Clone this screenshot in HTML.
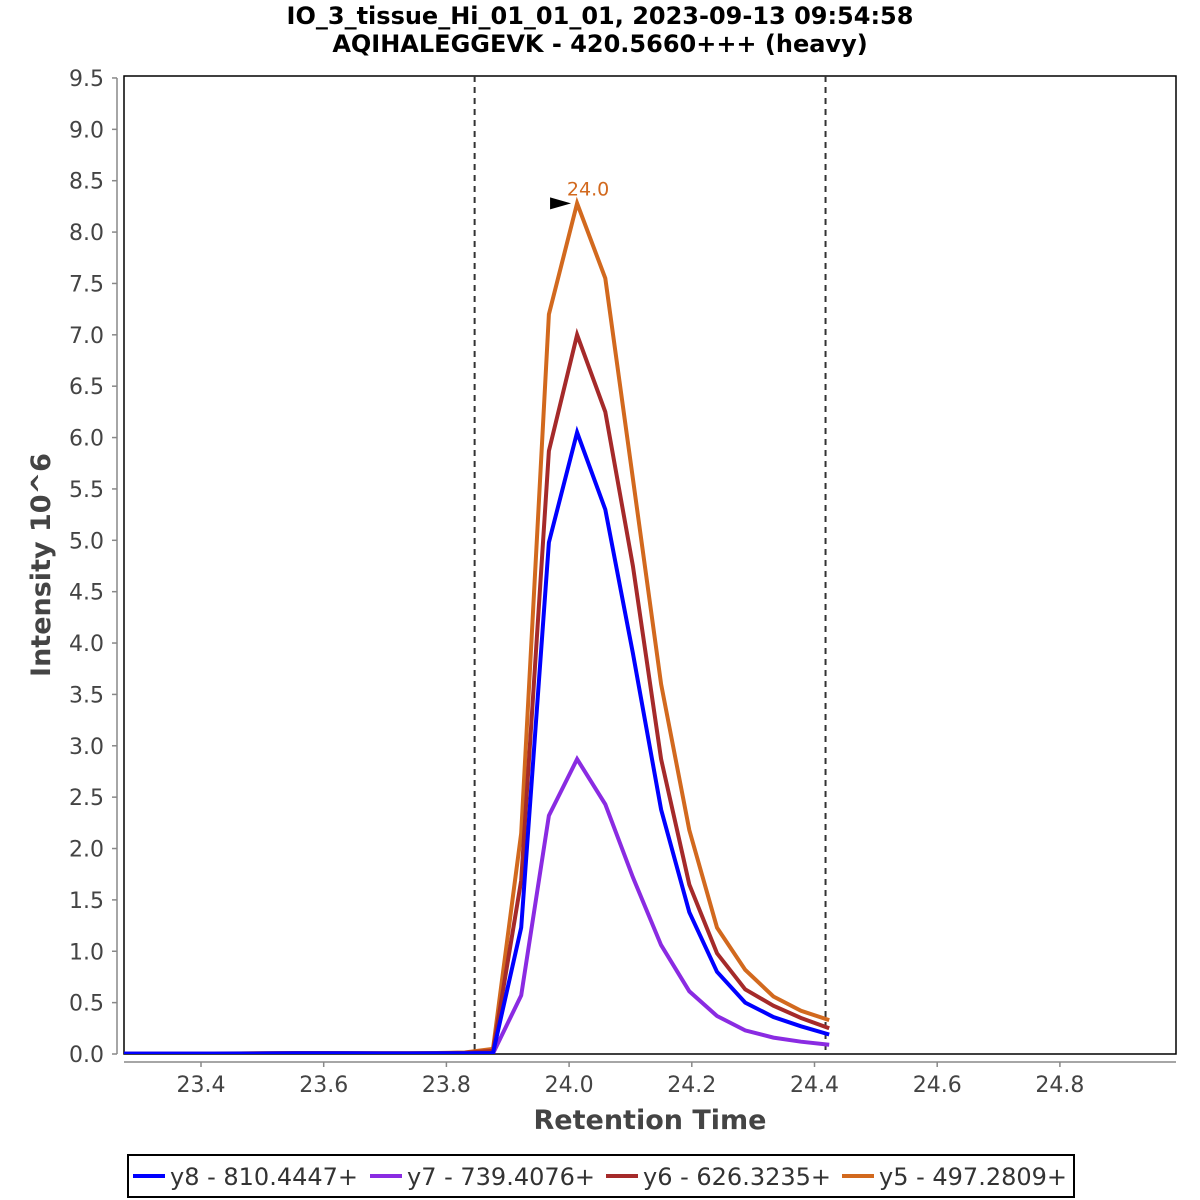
<!DOCTYPE html>
<html><head><meta charset="utf-8"><style>
body{margin:0;background:#fff;}
svg{display:block;font-family:"DejaVu Sans","Liberation Sans",sans-serif;}
</style></head><body>
<svg id="chart" width="1200" height="1200">
<text x="600" y="24" text-anchor="middle" font-size="24" font-weight="bold">IO_3_tissue_Hi_01_01_01, 2023-09-13 09:54:58</text>
<text x="600" y="52" text-anchor="middle" font-size="24" font-weight="bold">AQIHALEGGEVK - 420.5660+++ (heavy)</text>
<rect x="124" y="76" width="1052" height="978" fill="#fff" stroke="#000" stroke-width="1.5"/>
<g id="yaxis"></g>
<g id="xaxis"></g>
<text transform="translate(50,565) rotate(-90)" text-anchor="middle" font-size="27" font-weight="bold" fill="#444">Intensity 10^6</text>
<text x="650" y="1129" text-anchor="middle" font-size="27" font-weight="bold" fill="#444">Retention Time</text>
<defs><clipPath id="clip"><rect x="124" y="76" width="1052" height="978"/></clipPath></defs>
<g id="marks" clip-path="url(#clip)"></g>
<g id="legend"></g>
</svg>
<script>
const times=[23.236,23.282,23.327,23.373,23.419,23.464,23.510,23.556,23.602,23.647,23.693,23.739,23.784,23.830,23.876,23.922,23.967,24.013,24.059,24.104,24.150,24.196,24.241,24.287,24.333,24.378,24.424];
const y8=[0.004,0.004,0.004,0.004,0.004,0.005,0.006,0.008,0.008,0.007,0.006,0.006,0.007,0.008,0.01,1.23,4.98,6.05,5.3,3.9,2.38,1.38,0.8,0.5,0.36,0.27,0.19];
const y7=[0.002,0.002,0.002,0.002,0.002,0.003,0.004,0.005,0.005,0.004,0.004,0.004,0.004,0.005,0.005,0.57,2.32,2.87,2.43,1.72,1.06,0.61,0.37,0.23,0.16,0.12,0.09];
const y6=[0.004,0.004,0.004,0.004,0.004,0.005,0.007,0.009,0.009,0.008,0.007,0.007,0.008,0.012,0.03,1.69,5.87,7.0,6.25,4.75,2.87,1.65,0.98,0.63,0.47,0.35,0.25];
const y5=[0.005,0.005,0.005,0.005,0.005,0.006,0.008,0.01,0.01,0.009,0.008,0.008,0.01,0.015,0.05,2.15,7.2,8.28,7.55,5.6,3.6,2.18,1.23,0.82,0.56,0.42,0.33];
const seriesNames=["y8 - 810.4447+","y7 - 739.4076+","y6 - 626.3235+","y5 - 497.2809+"];
const seriesColors=["#0000ff","#8a2be2","#a52a2a","#d2691e"];
const yTicks=[0,0.5,1,1.5,2,2.5,3,3.5,4,4.5,5,5.5,6,6.5,7,7.5,8,8.5,9,9.5];
const xTicks=[23.4,23.6,23.8,24.0,24.2,24.4,24.6,24.8];
const boundaries=[23.846,24.418];
const apexTime=24.013, apexValue=8.28, apexLabel="24.0";

const NS="http://www.w3.org/2000/svg";
const X=t=>201+(t-23.4)*613.5;
const Y=v=>1054-v*102.74;
function mk(tag,attrs,parent){const e=document.createElementNS(NS,tag);for(const k in attrs)e.setAttribute(k,attrs[k]);parent.appendChild(e);return e;}
const ya=document.getElementById('yaxis'),xa=document.getElementById('xaxis'),marks=document.getElementById('marks'),lg=document.getElementById('legend');
mk('line',{x1:117,y1:Y(9.5),x2:117,y2:Y(0),stroke:'#888','stroke-width':1.5},ya);
yTicks.forEach(v=>{
 const l=mk('line',{x1:112,x2:117,y1:Y(v),y2:Y(v),stroke:'#888','stroke-width':1.5},ya);
 
 
 const t=mk('text',{x:104,y:Y(v)+8,'text-anchor':'end','font-size':22,fill:'#444'},ya);
 t.textContent=v.toFixed(1);
 
 
});
mk('line',{x1:124,y1:1062,x2:1176,y2:1062,stroke:'#888','stroke-width':1.5},xa);
xTicks.forEach(v=>{
 const l=mk('line',{x1:X(v),x2:X(v),y1:1062,y2:1067,stroke:'#888','stroke-width':1.5},xa);
 
 
 const t=mk('text',{x:X(v),y:1092,'text-anchor':'middle','font-size':22,fill:'#444'},xa);
 t.textContent=v.toFixed(1);
 
 
});
boundaries.forEach(b=>{
 const l=mk('line',{x1:X(b),x2:X(b),y1:76,y2:1054,stroke:'#333','stroke-width':2,'stroke-dasharray':'6,5'},marks);
 
 
});
const all=[y8,y7,y6,y5];
[3,2,1,0].forEach(i=>{
 const pts=times.map((t,j)=>X(t).toFixed(1)+','+Y(all[i][j]).toFixed(1)).join(' ');
 const p=mk('polyline',{points:pts,fill:'none',stroke:seriesColors[i],'stroke-width':4,'stroke-linejoin':'miter'},marks);
 
 
});
const ax=X(apexTime),ay=Y(apexValue);
const arr=mk('polygon',{points:`${ax-27},${ay-6} ${ax-27},${ay+6} ${ax-6},${ay}`,fill:'#000'},document.getElementById('chart'));


const at=mk('text',{x:ax+11,y:ay-8,'text-anchor':'middle','font-size':19,fill:'#d2691e'},document.getElementById('chart'));
at.textContent=apexLabel;


mk('rect',{x:128,y:1155,width:946,height:42,fill:'#fff',stroke:'#000','stroke-width':2},lg);
const lx=[133,370,606,842];
seriesNames.forEach((n,i)=>{
 const g=mk('g',{},lg);
 
 
 mk('line',{x1:lx[i],x2:lx[i]+32,y1:1176,y2:1176,stroke:seriesColors[i],'stroke-width':4},g);
 const t=mk('text',{x:lx[i]+37,y:1185,'font-size':24,fill:'#333'},g);
 t.textContent=n;
});
</script>
</body></html>
